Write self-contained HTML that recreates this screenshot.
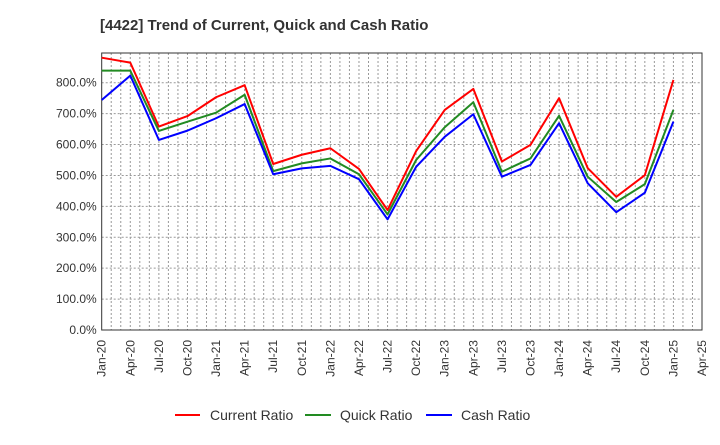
<!DOCTYPE html>
<html><head><meta charset="utf-8"><style>
body{margin:0;background:#fff;}
text{font-family:"Liberation Sans",sans-serif;}
</style></head><body>
<svg id="c" width="720" height="440" xmlns="http://www.w3.org/2000/svg">
<text x="100" y="30" font-size="15" font-weight="bold" fill="#333">[4422]  Trend of Current, Quick and Cash Ratio</text>
<g id="grid"></g><g id="axes"></g><g id="series"></g>
<g>
<line x1="175" y1="415" x2="200" y2="415" stroke="#f00" stroke-width="2"/>
<text x="210" y="420" font-size="14" fill="#333">Current Ratio</text>
<line x1="305" y1="415" x2="331" y2="415" stroke="#228b22" stroke-width="2"/>
<text x="340" y="420" font-size="14" fill="#333">Quick Ratio</text>
<line x1="426" y1="415" x2="452" y2="415" stroke="#00f" stroke-width="2"/>
<text x="461" y="420" font-size="14" fill="#333">Cash Ratio</text>
</g>
</svg>
<script>
const xLabels=["Jan-20","Apr-20","Jul-20","Oct-20","Jan-21","Apr-21","Jul-21","Oct-21","Jan-22","Apr-22","Jul-22","Oct-22","Jan-23","Apr-23","Jul-23","Oct-23","Jan-24","Apr-24","Jul-24","Oct-24","Jan-25","Apr-25"];
const yTicks=[0,100,200,300,400,500,600,700,800];
const currentRatio=[881,865,658,692,753,792,537,567,588,521,388,579,712,780,545,599,750,524,431,501,809];
const quickRatio=[839,839,644,674,703,761,514,539,555,504,374,550,656,737,512,555,693,496,414,472,712];
const cashRatio=[744,823,615,645,685,731,504,523,531,488,358,528,625,698,496,534,669,475,381,444,674];
const L=101.7,R=702,T=53,B=330,yMax=(B-T)/30.91*100;
const NS="http://www.w3.org/2000/svg";
const xs=i=>L+(R-L)*i/(xLabels.length-1);
const ys=v=>B-(B-T)*v/yMax;
function mk(tag,attrs,parent){const e=document.createElementNS(NS,tag);for(const k in attrs)e.setAttribute(k,attrs[k]);parent.appendChild(e);return e;}
const grid=document.getElementById('grid'),axes=document.getElementById('axes'),ser=document.getElementById('series');
const months=(xLabels.length-1)*3;
for(let m=1;m<months;m++){const x=L+(R-L)*m/months;const g=mk('line',{x1:x,x2:x,y1:T,y2:B,stroke:'#999','stroke-dasharray':'2,2','stroke-width':1},grid);

}
yTicks.forEach(v=>{const y=ys(v);if(v>0){const g=mk('line',{x1:L,x2:R,y1:y,y2:y,stroke:'#999','stroke-dasharray':'2,2','stroke-width':1},grid);

}
const t=mk('text',{x:L-5,y:y+4,'font-size':12,'text-anchor':'end',fill:'#333'},axes);t.textContent=v.toFixed(1)+'%';

});
xLabels.forEach((s,i)=>{const x=xs(i);const t=mk('text',{x:0,y:0,'font-size':12,'text-anchor':'end',fill:'#333',transform:`translate(${x+4},${B+10}) rotate(-90)`},axes);t.textContent=s;

});
const fr=mk('rect',{x:L,y:T,width:R-L,height:B-T,fill:'none',stroke:'#333','stroke-width':1},axes);


[[currentRatio,'#f00','current-ratio-line'],[quickRatio,'#228b22','quick-ratio-line'],[cashRatio,'#00f','cash-ratio-line']].forEach(([d,c,n])=>{
const p=mk('polyline',{points:d.map((v,i)=>xs(i)+','+ys(v)).join(' '),fill:'none',stroke:c,'stroke-width':2,'stroke-linejoin':'round'},ser);

});
</script>
</body></html>
